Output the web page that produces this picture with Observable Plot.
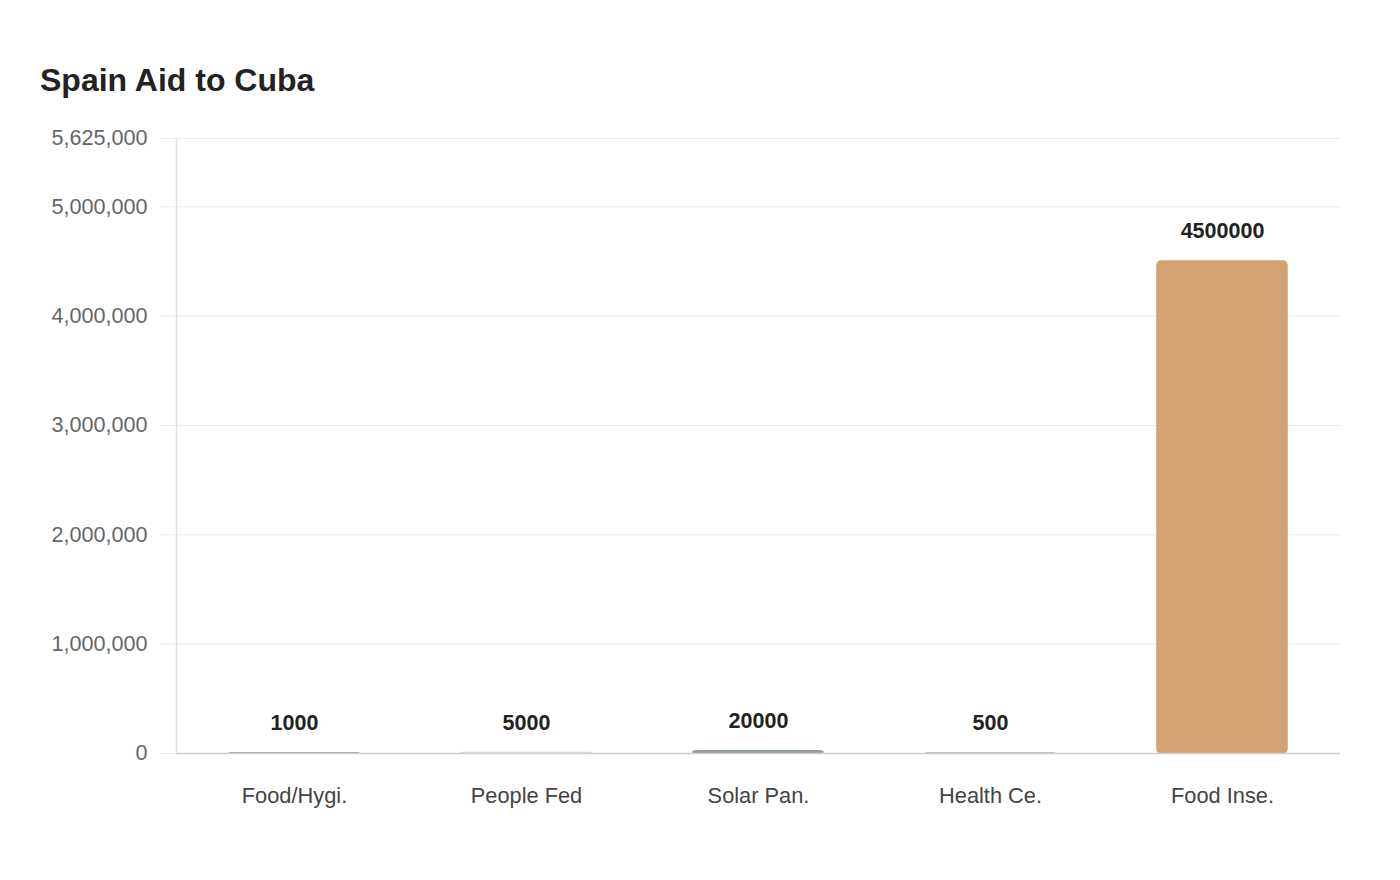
<!DOCTYPE html>
<html>
<head>
<meta charset="utf-8">
<script src="https://cdn.jsdelivr.net/npm/d3@7"></script>
<script src="https://cdn.jsdelivr.net/npm/@observablehq/plot@0.6"></script>
<style>
  body { margin: 0; background: #fff; font-family: "Liberation Sans", Arial, sans-serif; }
  h2 { margin: 0; padding: 61px 0 0 40px; font-size: 32px; line-height: 38px; font-weight: bold; color: #222; }
  #chart svg { display: block; }
</style>
</head>
<body>
<h2>Spain Aid to Cuba</h2>
<div id="chart"></div>
<script>
const categories = ["Food/Hygi.", "People Fed", "Solar Pan.", "Health Ce.", "Food Inse."];
const values = [1000, 5000, 20000, 500, 4500000];
const colors = ["#8c8c8c", "#d6d6d6", "#8f9ea2", "#a8a8ae", "#d4a373"];
const yTicks = [0, 1000000, 2000000, 3000000, 4000000, 5000000, 5625000];

const data = categories.map((c, i) => ({ category: c, value: values[i], color: colors[i] }));

const chart = Plot.plot({
  width: 1400,
  height: 734,
  marginTop: 39,
  marginBottom: 80,
  marginLeft: 176,
  marginRight: 60,
  style: { fontFamily: "'Liberation Sans', Arial, sans-serif", fontSize: "22px", background: "#fff" },
  x: { domain: categories, paddingInner: 0.44, paddingOuter: 0.22, label: null },
  y: { domain: [0, 5625000], label: null },
  marks: [
    Plot.gridY(yTicks, { stroke: "#ebebeb", strokeOpacity: 1 }),
    Plot.frame({ anchor: "left", stroke: "#e3e3e3", strokeWidth: 1.5 }),
    Plot.axisY(yTicks, { tickSize: 16, tickPadding: 13, stroke: "#ebebeb", strokeOpacity: 1, fill: "#666", tickFormat: d3.format(","), fontSize: 21.6 }),
    Plot.barY(data, { x: "category", y: "value", fill: "color", stroke: "color", strokeWidth: 1.5, rx: 4 }),
    Plot.ruleY([0], { stroke: "#cfcfcf", strokeWidth: 1.5 }),
    Plot.axisX({ tickSize: 0, tickPadding: 34, fill: "#444", fontSize: 21.8 }),
    Plot.text(data, { x: "category", y: "value", text: d => String(d.value), dy: -30, fontWeight: "bold", fontSize: 21.5, fill: "#222" })
  ]
});
document.getElementById("chart").appendChild(chart);
</script>
</body>
</html>
